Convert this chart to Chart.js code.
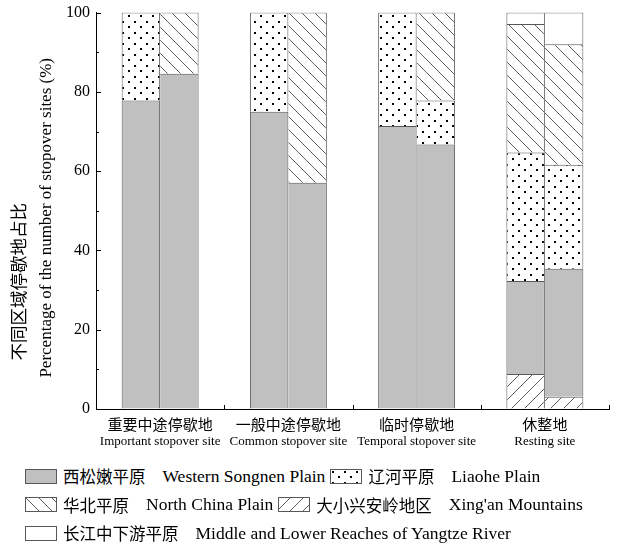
<!DOCTYPE html>
<html>
<head>
<meta charset="utf-8">
<script src="https://cdn.jsdelivr.net/npm/chart.js@4/dist/chart.umd.min.js"></script>
<style>
  body { margin: 0; background: #fff; }
  #wrap { position: relative; width: 617px; height: 544px; overflow: hidden; }
  #chart { position: absolute; left: 0; top: -3px; }
  #legend { position: absolute; left: 25px; top: 462px; font-size: 17px; color: #000; }
  .row { display: flex; align-items: center; height: 28.5px; white-space: nowrap; }
  .item { display: flex; align-items: center; margin-right: 5px; }
  .item canvas { margin-right: 6px; }
  .zh { font-family: 'Noto Sans CJK SC', sans-serif; font-size: 16.5px; }
  .en { font-family: 'Liberation Serif', serif; font-size: 17.5px; margin-left: 17px; }
</style>
</head>
<body>
<div id="wrap">
  <canvas id="chart" width="617" height="458"></canvas>
  <div id="legend"></div>
</div>
<script>
// 카테고리 / 축 라벨
const categories = ["重要中途停歇地", "一般中途停歇地", "临时停歇地", "休整地"];
const categoriesEn = ["Important stopover site", "Common stopover site", "Temporal stopover site", "Resting site"];
const yTicks = [0, 20, 40, 60, 80, 100];

// 왼쪽 막대 (각 카테고리의 첫번째)
const xinganLeft = [0, 0, 0, 8.8];
const songnenLeft = [77.8, 75.0, 71.4, 23.5];
const liaoheLeft = [22.2, 25.0, 28.6, 32.4];
const northChinaLeft = [0, 0, 0, 32.4];
const yangtzeLeft = [0, 0, 0, 2.9];

// 오른쪽 막대
const xinganRight = [0, 0, 0, 3.1];
const songnenRight = [84.6, 57.1, 66.7, 32.3];
const liaoheRight = [0, 0, 11.1, 26.2];
const northChinaRight = [15.4, 42.9, 22.2, 30.4];
const yangtzeRight = [0, 0, 0, 8.0];

// 범례
const regions = [
  { key: "xingan", zh: "大小兴安岭地区", en: "Xing'an Mountains", fill: "slash", left: xinganLeft, right: xinganRight },
  { key: "songnen", zh: "西松嫩平原", en: "Western Songnen Plain", fill: "gray", left: songnenLeft, right: songnenRight },
  { key: "liaohe", zh: "辽河平原", en: "Liaohe Plain", fill: "dots", left: liaoheLeft, right: liaoheRight },
  { key: "northChina", zh: "华北平原", en: "North China Plain", fill: "back", left: northChinaLeft, right: northChinaRight },
  { key: "yangtze", zh: "长江中下游平原", en: "Middle and Lower Reaches of Yangtze River", fill: "white", left: yangtzeLeft, right: yangtzeRight }
];
const legendRows = [["songnen", "liaohe"], ["northChina", "xingan"], ["yangtze"]];

const borderCol = "#585858";

// 패턴 만들기
function makeFill(kind) {
  if (kind === "gray") return "#c0c0c0";
  if (kind === "white") return "#ffffff";
  const c = document.createElement("canvas");
  const ctx = c.getContext("2d");
  if (kind === "dots") {
    c.width = 12; c.height = 11;
    ctx.fillStyle = "#fff"; ctx.fillRect(0, 0, 12, 11);
    ctx.fillStyle = "#000";
    ctx.fillRect(2, 2, 2, 2);
    ctx.fillRect(8, 7, 2, 2);
  } else {
    const s = 13;
    c.width = s; c.height = s;
    ctx.fillStyle = "#fff"; ctx.fillRect(0, 0, s, s);
    ctx.strokeStyle = "#333"; ctx.lineWidth = 0.8;
    for (let k = -1; k <= 1; k++) {
      ctx.beginPath();
      if (kind === "back") { ctx.moveTo(k * s, 0); ctx.lineTo(k * s + s, s); }
      else { ctx.moveTo(k * s, s); ctx.lineTo(k * s + s, 0); }
      ctx.stroke();
    }
  }
  return ctx.createPattern(c, "repeat");
}

const datasets = [];
["left", "right"].forEach(side => {
  regions.forEach(r => {
    datasets.push({
      label: r.en,
      stack: side,
      data: r[side].map(v => (v === 0 ? null : v)),
      backgroundColor: makeFill(r.fill),
      borderColor: borderCol,
      // 겹치는 테두리 방지
      borderWidth: side === "left" ? { left: 1, top: 1, right: 1, bottom: 0 } : { left: 0, top: 1, right: 1, bottom: 0 },
      borderSkipped: false
    });
  });
});

// 축 눈금(안쪽), 영문 라벨, y축 제목
const axisExtras = {
  id: "axisExtras",
  afterDraw(chart) {
    const { ctx, chartArea, scales: { x, y } } = chart;
    ctx.save();
    ctx.strokeStyle = "#000";
    ctx.lineWidth = 1;
    for (let v = 0; v <= 100; v += 10) {
      const py = Math.round(y.getPixelForValue(v)) + 0.5;
      const len = yTicks.includes(v) ? 5 : 3;
      ctx.beginPath();
      ctx.moveTo(chartArea.left, py);
      ctx.lineTo(chartArea.left + len, py);
      ctx.stroke();
    }
    for (let i = 0; i < categories.length; i++) {
      const px = Math.round(x.getPixelForValue(i + 0.5)) + 0.5;
      ctx.beginPath();
      ctx.moveTo(px, chartArea.bottom);
      ctx.lineTo(px, chartArea.bottom - 4);
      ctx.stroke();
    }
    // 영문 카테고리 라벨
    ctx.fillStyle = "#000";
    ctx.font = "13px 'Liberation Serif'";
    ctx.textAlign = "center";
    ctx.textBaseline = "middle";
    categoriesEn.forEach((t, i) => {
      ctx.fillText(t, x.getPixelForTick(i), chartArea.bottom + 33);
    });
    // y축 제목 두 줄
    const midY = (chartArea.top + chartArea.bottom) / 2;
    ctx.save();
    ctx.translate(18, midY + 71);
    ctx.rotate(-Math.PI / 2);
    ctx.font = "17.5px 'Noto Sans CJK SC'";
    ctx.fillText("不同区域停歇地占比", 0, 0);
    ctx.restore();
    ctx.save();
    ctx.translate(47, midY + 7);
    ctx.rotate(-Math.PI / 2);
    ctx.font = "17px 'Liberation Serif'";
    ctx.fillText("Percentage of the number of stopover sites (%)", 0, 0);
    ctx.restore();
    ctx.restore();
  }
};

document.addEventListener("DOMContentLoaded", function () {
  new Chart(document.getElementById("chart"), {
    type: "bar",
    data: { labels: categories, datasets: datasets },
    options: {
      responsive: false,
      animation: false,
      devicePixelRatio: 1,
      layout: { padding: { top: 10, right: 8, left: 0, bottom: 0 } },
      datasets: { bar: { categoryPercentage: 0.6, barPercentage: 1.0 } },
      plugins: { legend: { display: false }, tooltip: { enabled: false } },
      scales: {
        x: {
          stacked: true,
          grid: { display: true, drawOnChartArea: false, drawTicks: false },
          border: { display: true, color: "#000", width: 1 },
          ticks: { color: "#000", padding: 6, maxRotation: 0, font: { family: "'Noto Sans CJK SC'", size: 15 } },
          afterFit(scale) { scale.height = 46; }
        },
        y: {
          stacked: true,
          min: 0,
          max: 100,
          grid: { display: true, drawOnChartArea: false, drawTicks: false },
          border: { display: true, color: "#000", width: 1 },
          ticks: { stepSize: 20, color: "#000", padding: 6, font: { family: "'Liberation Serif'", size: 16 } },
          afterFit(scale) { scale.width = 96; }
        }
      }
    },
    plugins: [axisExtras]
  });

  // 범례 만들기
  const legend = document.getElementById("legend");
  legendRows.forEach(row => {
    const rowDiv = document.createElement("div");
    rowDiv.className = "row";
    row.forEach(key => {
      const r = regions.find(g => g.key === key);
      const item = document.createElement("div");
      item.className = "item";
      const sw = document.createElement("canvas");
      sw.width = 32; sw.height = 15;
      const sctx = sw.getContext("2d");
      sctx.fillStyle = makeFill(r.fill);
      sctx.fillRect(0, 0, 32, 15);
      sctx.strokeStyle = borderCol;
      sctx.lineWidth = 1;
      sctx.strokeRect(0.5, 0.5, 31, 14);
      item.appendChild(sw);
      const zh = document.createElement("span");
      zh.className = "zh";
      zh.textContent = r.zh;
      const en = document.createElement("span");
      en.className = "en";
      en.textContent = r.en;
      item.appendChild(zh);
      item.appendChild(en);
      rowDiv.appendChild(item);
    });
    legend.appendChild(rowDiv);
  });
});
</script>
</body>
</html>
